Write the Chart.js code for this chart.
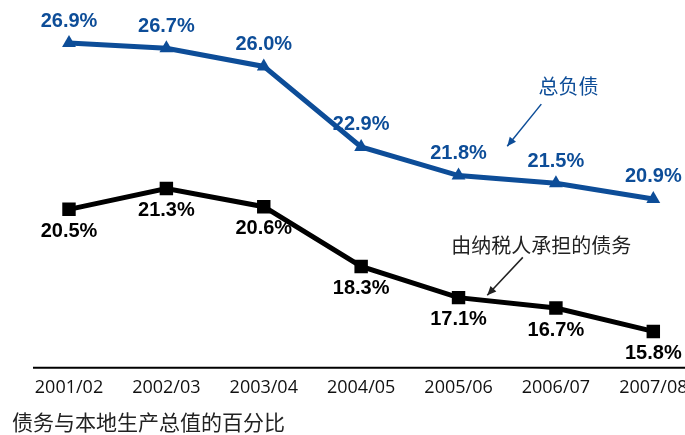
<!DOCTYPE html>
<html>
<head>
<meta charset="utf-8">
<script src="https://cdn.jsdelivr.net/npm/chart.js@4"></script>
<style>
html,body{margin:0;padding:0;background:#fff;overflow:hidden;}
#wrap{width:702px;height:435px;position:relative;}
</style>
</head>
<body>
<div id="wrap"><canvas id="c"></canvas></div>
<script>
const categories = ["2001/02","2002/03","2003/04","2004/05","2005/06","2006/07","2007/08"];
const totalDebt = [26.9, 26.7, 26.0, 22.9, 21.8, 21.5, 20.9];
const taxpayerDebt = [20.5, 21.3, 20.6, 18.3, 17.1, 16.7, 15.8];
const seriesNames = ["总负债", "由纳税人承担的债务"];
const caption = "债务与本地生产总值的百分比";

const BLUE = "#0d4d98";
const CJK = "'Noto Sans CJK SC', 'Noto Sans', sans-serif";

const valueLabels = {
  id: "valueLabels",
  afterDatasetsDraw(chart) {
    const ctx = chart.ctx;
    ctx.save();
    ctx.font = "bold 20px 'Liberation Sans', Arial, sans-serif";
    ctx.textAlign = "center";
    ctx.textBaseline = "middle";
    chart.data.datasets.forEach((ds, i) => {
      const meta = chart.getDatasetMeta(i);
      const dy = ds.labelBelow ? 22 : -22;
      ctx.fillStyle = ds.borderColor;
      meta.data.forEach((pt, j) => {
        ctx.fillText(ds.data[j].toFixed(1) + "%", pt.x, pt.y + dy);
      });
    });
    ctx.restore();
  }
};

const annotations = {
  id: "annotations",
  afterDatasetsDraw(chart) {
    const ctx = chart.ctx;
    const xs = chart.scales.x, ys = chart.scales.y;
    const P = (i, v) => [xs.getPixelForValue(i), ys.getPixelForValue(v)];
    const items = [
      {text: seriesNames[0], color: BLUE, at: [5.13, 25.24], from: [4.85, 24.55], to: [4.5, 22.93]},
      {text: seriesNames[1], color: "#222", at: [4.85, 19.12], from: [4.66, 18.65], to: [4.295, 17.19]}
    ];
    ctx.save();
    items.forEach(it => {
      const [tx, ty] = P(it.at[0], it.at[1]);
      ctx.font = "20px " + CJK;
      ctx.fillStyle = it.color;
      ctx.textAlign = "center";
      ctx.textBaseline = "middle";
      ctx.fillText(it.text, tx, ty);
      const [x1, y1] = P(it.from[0], it.from[1]);
      const [x2, y2] = P(it.to[0], it.to[1]);
      ctx.strokeStyle = it.color;
      ctx.lineWidth = 1.5;
      ctx.beginPath();
      ctx.moveTo(x1, y1);
      ctx.lineTo(x2, y2);
      ctx.stroke();
      const a = Math.atan2(y2 - y1, x2 - x1);
      const L = 9, W = 4;
      ctx.beginPath();
      ctx.moveTo(x2, y2);
      ctx.lineTo(x2 - L*Math.cos(a) + W*Math.sin(a), y2 - L*Math.sin(a) - W*Math.cos(a));
      ctx.lineTo(x2 - L*Math.cos(a) - W*Math.sin(a), y2 - L*Math.sin(a) + W*Math.cos(a));
      ctx.closePath();
      ctx.fillStyle = it.color;
      ctx.fill();
    });
    ctx.restore();
  }
};

const axisLine = {
  id: "axisLine",
  afterDraw(chart) {
    const ctx = chart.ctx;
    const xs = chart.scales.x;
    const y = chart.chartArea.bottom;
    ctx.save();
    ctx.strokeStyle = "#000";
    ctx.lineWidth = 2;
    ctx.beginPath();
    ctx.moveTo(xs.getPixelForValue(0) - 36, y);
    ctx.lineTo(chart.width, y);
    ctx.stroke();
    ctx.restore();
  }
};

new Chart(document.getElementById("c"), {
  type: "line",
  data: {
    labels: categories,
    datasets: [
      {
        label: seriesNames[0],
        data: totalDebt,
        borderColor: BLUE,
        backgroundColor: BLUE,
        borderWidth: 5,
        pointStyle: "triangle",
        pointRadius: 8,
        pointBorderWidth: 0,
        pointBackgroundColor: BLUE,
        tension: 0,
        labelBelow: false
      },
      {
        label: seriesNames[1],
        data: taxpayerDebt,
        borderColor: "#000",
        backgroundColor: "#000",
        borderWidth: 5,
        pointStyle: "rect",
        pointRadius: 9.5,
        pointBorderWidth: 0,
        pointBackgroundColor: "#000",
        tension: 0,
        labelBelow: true
      }
    ]
  },
  options: {
    responsive: true,
    maintainAspectRatio: false,
    animation: false,
    layout: {autoPadding: false, padding: {left: 12, right: 0, top: 0, bottom: 0}},
    plugins: {
      legend: {display: false},
      tooltip: {enabled: false},
      title: {
        display: true,
        text: caption,
        position: "bottom",
        align: "start",
        color: "#222",
        font: {family: CJK, size: 21, weight: "normal"},
        padding: {top: 14, bottom: 0}
      }
    },
    scales: {
      x: {
        type: "category",
        offset: true,
        grid: {display: false},
        border: {display: false},
        ticks: {
          color: "#111",
          padding: 1,
          maxRotation: 0,
          autoSkip: false,
          font: {family: "'Open Sans', sans-serif", size: 18}
        },
        afterFit(s) { s.height = 28; }
      },
      y: {
        display: true,
        min: 14.4,
        max: 28.557,
        grid: {display: false},
        border: {display: false},
        ticks: {display: false},
        afterFit(s) { s.width = 8.3; }
      }
    }
  },
  plugins: [valueLabels, annotations, axisLine]
});
</script>
</body>
</html>
